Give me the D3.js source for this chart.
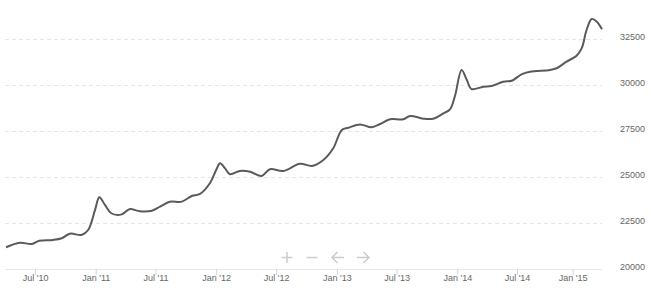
<!DOCTYPE html>
<html>
<head>
<meta charset="utf-8">
<script src="https://cdn.jsdelivr.net/npm/d3@7"></script>
<style>
  body { margin: 0; background: #fff; }
  svg { display: block; font-family: "Open Sans", sans-serif; }
</style>
</head>
<body>
<script>
// window size
var width = 651,
    height = 298;

// data
var dates = ["2010-04-04","2010-05-16","2010-06-21","2010-07-14","2010-08-25","2010-09-20",
  "2010-10-15","2010-11-19","2010-12-09","2010-12-30","2011-01-12","2011-01-29","2011-02-17",
  "2011-03-21","2011-04-13","2011-05-15","2011-06-20","2011-07-15","2011-08-14","2011-09-19",
  "2011-10-19","2011-11-13","2011-12-13","2012-01-01","2012-01-13","2012-01-28","2012-02-12",
  "2012-03-13","2012-04-13","2012-05-18","2012-06-12","2012-07-23","2012-09-11","2012-10-18",
  "2012-11-21","2012-12-21","2013-01-16","2013-02-05","2013-03-12","2013-04-16","2013-05-12",
  "2013-06-11","2013-07-21","2013-08-11","2013-09-20","2013-10-20","2013-11-20","2013-12-10",
  "2013-12-25","2014-01-14","2014-01-30","2014-02-13","2014-03-21","2014-04-15","2014-05-20",
  "2014-06-15","2014-07-16","2014-08-13","2014-10-18","2014-11-09","2014-12-12","2015-01-14",
  "2015-01-31","2015-02-16","2015-03-05","2015-03-22","2015-04-08"];

var values = [21180,21430,21360,21540,21580,21670,
  21920,21850,22120,23210,23900,23480,23030,
  22970,23250,23140,23170,23390,23660,23660,
  23970,24080,24660,25380,25750,25470,25150,
  25330,25290,25060,25420,25330,25720,25600,
  25920,26560,27560,27680,27860,27700,27880,
  28140,28140,28320,28170,28170,28460,28680,
  29400,30820,30270,29780,29910,29950,30180,
  30230,30580,30720,30820,30910,31270,31590,
  32000,32990,33590,33440,33030];

var xTicks = ["2010-07-01","2011-01-01","2011-07-01","2012-01-01","2012-07-01",
  "2013-01-01","2013-07-01","2014-01-01","2014-07-01","2015-01-01"];

var yTicks = [20000, 22500, 25000, 27500, 30000, 32500];

var parse = d3.timeParse("%Y-%m-%d");

var data = dates.map(function(d, i){
    return {date: parse(d), value: values[i]};
});

// svg
var svg = d3.select("body")
    .append("svg")
    .attr("width", width)
    .attr("height", height);

var left = 5, right = 602, bottom = 269;

// scales
var x = d3.scaleTime()
    .domain([parse("2010-04-01"), parse("2014-07-01"), parse("2015-04-08")])
    .range([left, 517, right]);

var y = d3.scaleLinear()
    .domain([20000, 32500])
    .range([bottom, 39]);

// dashed grid lines
var grid = svg.append("g")
    .attr("transform", "translate(" + left + ",0)")
    .call(d3.axisRight(y)
        .tickValues(yTicks.slice(1))
        .tickSize(right - left)
        .tickFormat(""));
grid.select(".domain").remove();
grid.selectAll("line")
    .attr("stroke", "#e6e6e6")
    .attr("stroke-dasharray", "4,3");

// x axis
var xAxis = svg.append("g")
    .attr("transform", "translate(0," + bottom + ")")
    .call(d3.axisBottom(x)
        .tickValues(xTicks.map(parse))
        .tickSize(6)
        .tickSizeOuter(0)
        .tickPadding(0)
        .tickFormat(d3.timeFormat("%b '%y")));
xAxis.select(".domain")
    .attr("stroke", "#e6e6e6")
    .attr("d", "M" + left + ",0.5H" + right);
xAxis.selectAll(".tick line")
    .attr("stroke", "#ccd6eb");
xAxis.selectAll("text")
    .attr("y", 12)
    .attr("dy", 0)
    .attr("fill", "#666")
    .style("font-size", "9px");

// y axis labels on the right
var yAxis = svg.append("g")
    .attr("transform", "translate(620,0)")
    .call(d3.axisRight(y)
        .tickValues(yTicks)
        .tickSize(0)
        .tickPadding(0)
        .tickFormat(d3.format("d")));
yAxis.select(".domain").remove();
yAxis.selectAll("text")
    .attr("dy", 0)
    .attr("fill", "#666")
    .style("font-size", "9px");

// the line, smoothed like a spline
var line = d3.line()
    .x(function(d){ return x(d.date); })
    .y(function(d){ return y(d.value); })
    .curve(d3.curveCatmullRom.alpha(0.5));

svg.append("path")
    .datum(data)
    .attr("d", line)
    .attr("fill", "none")
    .attr("stroke", "#5a5a5a")
    .attr("stroke-width", 2)
    .attr("stroke-linejoin", "round");

// zoom / pan buttons
var nav = svg.append("g")
    .attr("fill", "none")
    .attr("stroke", "#cccccc")
    .attr("stroke-width", 1.5);
nav.append("path").attr("d", "M281.5,257.5H292.5M287,252V263");
nav.append("path").attr("d", "M306.5,257.5H317.5");
nav.append("path").attr("d", "M344,257.5H332M337.5,252L332,257.5L337.5,263");
nav.append("path").attr("d", "M357,257.5H369M363.5,252L369,257.5L363.5,263");
</script>
</body>
</html>
